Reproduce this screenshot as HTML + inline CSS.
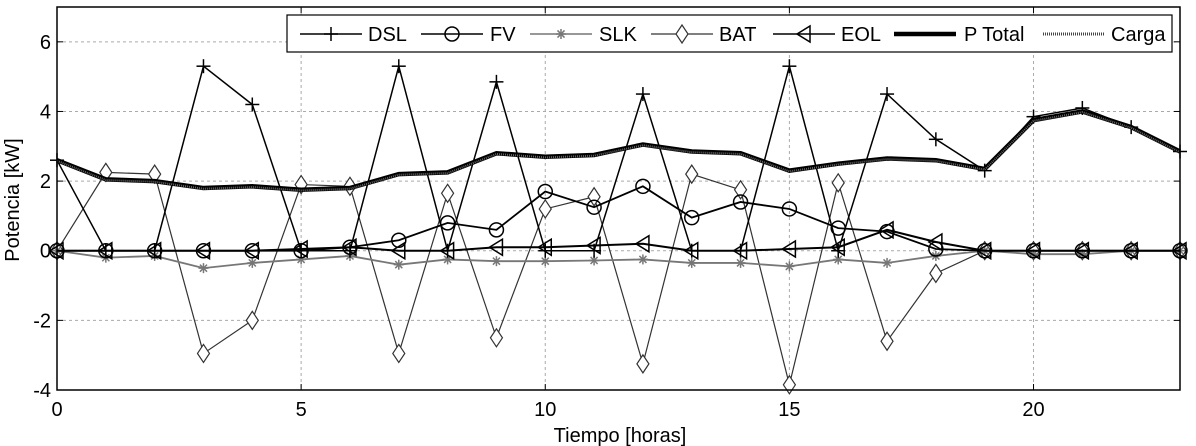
<!DOCTYPE html>
<html><head><meta charset="utf-8"><style>
body{margin:0;background:#fff;}
svg{display:block;font-family:"Liberation Sans",sans-serif;}
</style></head><body>
<svg id="chart" width="1196" height="446" viewBox="0 0 1196 446"></svg>
<script>
const hours=[0,1,2,3,4,5,6,7,8,9,10,11,12,13,14,15,16,17,18,19,20,21,22,23];
const dsl=[2.6,0,0,5.3,4.2,0,0,5.3,0,4.85,0,0,4.5,0,0,5.3,0,4.5,3.2,2.3,3.85,4.1,3.55,2.85];
const fv=[0,0,0,0,0,0,0.1,0.3,0.8,0.6,1.7,1.25,1.85,0.95,1.4,1.2,0.65,0.55,0.05,0,0,0,0,0];
const slk=[0,-0.2,-0.15,-0.5,-0.35,-0.25,-0.15,-0.4,-0.25,-0.3,-0.3,-0.28,-0.25,-0.35,-0.35,-0.45,-0.25,-0.35,-0.15,0,-0.1,-0.1,0,0];
const bat=[0,2.25,2.2,-2.95,-2.0,1.9,1.85,-2.95,1.65,-2.5,1.2,1.55,-3.25,2.2,1.75,-3.85,1.95,-2.6,-0.65,0,0,0,0,0];
const eol=[0,0,0,0,0,0.05,0.1,0,0,0.1,0.1,0.15,0.2,0,0,0.05,0.1,0.6,0.25,0,0,0,0,0];
const ptotal=[2.6,2.05,2.0,1.8,1.85,1.75,1.8,2.2,2.25,2.8,2.7,2.75,3.05,2.85,2.8,2.3,2.5,2.65,2.6,2.35,3.75,4.0,3.55,2.85];
const carga=[2.58,2.03,1.98,1.78,1.83,1.73,1.78,2.18,2.23,2.78,2.68,2.73,3.03,2.83,2.78,2.28,2.48,2.63,2.58,2.33,3.73,3.98,3.53,2.83];
const xTicks=[0,5,10,15,20];
const yTicks=[-4,-2,0,2,4,6];

const NS="http://www.w3.org/2000/svg";
const svg=document.getElementById('chart');
const L=57,R=1180,T=7,B=390,xmin=0,xmax=23,ymin=-4,ymax=7;
const X=v=>L+(v-xmin)/(xmax-xmin)*(R-L);
const Y=v=>B-(v-ymin)/(ymax-ymin)*(B-T);
function el(t,a,p){const e=document.createElementNS(NS,t);for(const k in a)e.setAttribute(k,a[k]);(p||svg).appendChild(e);return e;}

xTicks.forEach(t=>{if(t>0){const g=el('line',{x1:X(t),x2:X(t),y1:T,y2:B,stroke:'#aaa','stroke-dasharray':'3,3','stroke-width':1});

}
el('line',{x1:X(t),x2:X(t),y1:B,y2:B-6,stroke:'#000'});el('line',{x1:X(t),x2:X(t),y1:T,y2:T+6,stroke:'#000'});
const tx=el('text',{x:X(t),y:B+26,'text-anchor':'middle','font-size':20});tx.textContent=t;

});
yTicks.forEach(t=>{if(t!==ymin){const g=el('line',{x1:L,x2:R,y1:Y(t),y2:Y(t),stroke:'#aaa','stroke-dasharray':'3,3','stroke-width':1});

}
el('line',{x1:L,x2:L+6,y1:Y(t),y2:Y(t),stroke:'#000'});el('line',{x1:R,x2:R-6,y1:Y(t),y2:Y(t),stroke:'#000'});
const tx=el('text',{x:L-6,y:Y(t)+7,'text-anchor':'end','font-size':20});tx.textContent=t;

});

function marker(type,x,y,col,g){
 if(type==='plus'){el('line',{x1:x-7,x2:x+7,y1:y,y2:y,stroke:col,'stroke-width':1.5},g);el('line',{x1:x,x2:x,y1:y-7,y2:y+7,stroke:col,'stroke-width':1.5},g);}
 else if(type==='circle'){el('circle',{cx:x,cy:y,r:7,fill:'none',stroke:col,'stroke-width':1.5},g);}
 else if(type==='star'){for(let a=0;a<4;a++){const an=a*Math.PI/4;el('line',{x1:x-5*Math.cos(an),x2:x+5*Math.cos(an),y1:y-5*Math.sin(an),y2:y+5*Math.sin(an),stroke:col,'stroke-width':1.5},g);}}
 else if(type==='diamond'){el('polygon',{points:`${x},${y-9} ${x+6},${y} ${x},${y+9} ${x-6},${y}`,fill:'#fff',stroke:col,'stroke-width':1.2},g);}
 else if(type==='tri'){el('polygon',{points:`${x-7},${y} ${x+6},${y-8} ${x+6},${y+8}`,fill:'none',stroke:col,'stroke-width':1.5},g);}
}
function series(name,data,col,w,mk,dash){
 const g=el('g',{});
 
 
 const p=el('polyline',{points:data.map((v,i)=>X(hours[i])+','+Y(v)).join(' '),fill:'none',stroke:col,'stroke-width':w},g);
 if(dash)p.setAttribute('stroke-dasharray',dash);
 
 
 if(mk)data.forEach((v,i)=>marker(mk,X(hours[i]),Y(v),col,g));
}
series('bat',bat,'#333',1.2,'diamond');
series('slk',slk,'#777',1.8,'star');
series('dsl',dsl,'#000',1.5,'plus');
series('fv',fv,'#000',1.8,'circle');
series('eol',eol,'#000',2,'tri');
series('p-total',ptotal,'#000',4.5,null);
series('carga',carga,'#666',2,null,'1,1');

el('rect',{x:L,y:T,width:R-L,height:B-T,fill:'none',stroke:'#000','stroke-width':1.5});

const lg=el('g',{});


el('rect',{x:287,y:15,width:885,height:37,fill:'#fff',stroke:'#000','stroke-width':1.2},lg);
const items=[['DSL',300,368,'plus','#000',1.5],['FV',421,490,'circle','#000',1.5],['SLK',530,599,'star','#777',1.5],['BAT',651,719,'diamond','#333',1.2],['EOL',773,841,'tri','#000',1.5],['P Total',894,964,null,'#000',4.5],['Carga',1043,1111,null,'#444',3]];
items.forEach(([t,x1,tx,mk,col,w])=>{
 const g=el('g',{},lg);
 
 
 const l=el('line',{x1:x1,x2:x1+62,y1:34,y2:34,stroke:col,'stroke-width':w},g);
 if(t==='Carga')l.setAttribute('stroke-dasharray','1,1');
 if(mk)marker(mk,x1+31,34,col,g);
 const te=el('text',{x:tx,y:41,'font-size':20},g);te.textContent=t;
});

const xt=el('text',{x:620,y:442,'text-anchor':'middle','font-size':20});xt.textContent='Tiempo [horas]';


const yt=el('text',{x:0,y:0,'text-anchor':'middle','font-size':20,transform:'translate(19,200) rotate(-90)'});yt.textContent='Potencia [kW]';


</script>
</body></html>
